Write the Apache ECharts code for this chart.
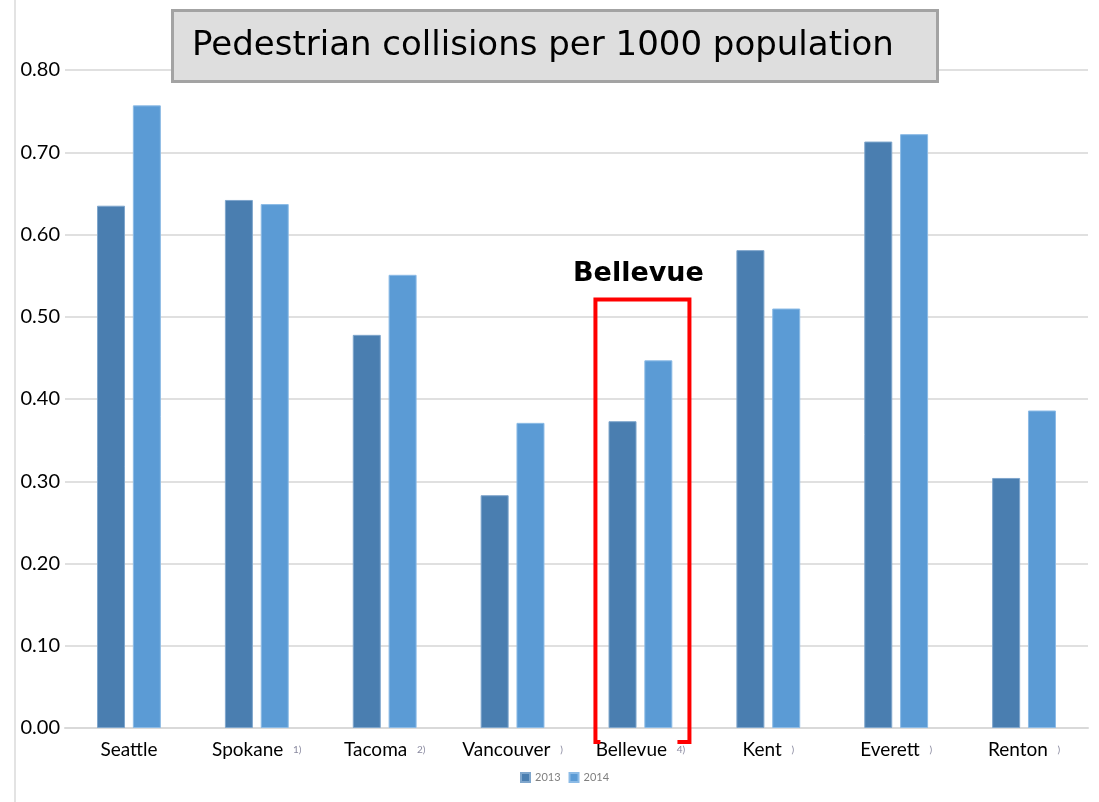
<!DOCTYPE html>
<html>
<head>
<meta charset="utf-8">
<script src="https://cdn.jsdelivr.net/npm/echarts@6/dist/echarts.min.js"></script>
<style>
  html, body { margin: 0; padding: 0; background: #fff; }
  #chart { width: 1099px; height: 802px; }
</style>
</head>
<body>
<div id="chart"></div>
<script>
const cities = ['Seattle', 'Spokane', 'Tacoma', 'Vancouver', 'Bellevue', 'Kent', 'Everett', 'Renton'];
const notes = ['', '1)', '2)', ')', '4)', ')', ')', ')'];
const y2013 = [0.635, 0.642, 0.478, 0.283, 0.373, 0.581, 0.713, 0.304];
const y2014 = [0.757, 0.637, 0.551, 0.371, 0.447, 0.510, 0.722, 0.386];
const yTicks = [0, 0.1, 0.2, 0.3, 0.4, 0.5, 0.6, 0.7, 0.8];

const chart = echarts.init(document.getElementById('chart'));
const labelFont = 'Lato, "Open Sans", sans-serif';

chart.setOption({
  animation: false,
  color: ['#4a7eb0', '#5b9bd5'],
  title: {
    text: 'Pedestrian collisions per 1000 population',
    left: 172,
    top: 10,
    padding: [19, 44, 19, 20],
    backgroundColor: '#dedede',
    borderColor: '#a3a3a3',
    borderWidth: 3,
    textStyle: {
      fontFamily: '"DejaVu Sans", sans-serif',
      fontWeight: 'normal',
      fontSize: 34,
      color: '#000'
    }
  },
  legend: {
    bottom: 14,
    left: 515,
    itemWidth: 9,
    itemHeight: 9,
    itemGap: 8,
    icon: 'rect',
    textStyle: { color: '#7f7f7f', fontSize: 11, fontFamily: labelFont }
  },
  grid: { left: 65, right: 11, top: 70, bottom: 74 },
  xAxis: {
    type: 'category',
    data: cities,
    axisTick: { show: false },
    axisLine: { lineStyle: { color: '#d9d9d9', width: 2 } },
    axisLabel: {
      interval: 0,
      margin: 12,
      formatter: (v, i) => notes[i] ? v + '  {n|' + notes[i] + '}' : v,
      color: '#000',
      fontSize: 19,
      fontFamily: labelFont,
      rich: { n: { fontSize: 10, color: '#8a8aa0' } }
    }
  },
  yAxis: {
    type: 'value',
    min: 0,
    max: 0.8,
    interval: 0.1,
    axisLine: { show: false },
    axisTick: { show: false },
    splitLine: { lineStyle: { color: '#e0e0e0', width: 2 } },
    axisLabel: {
      margin: 5,
      color: '#000',
      fontSize: 20,
      fontFamily: labelFont,
      formatter: v => v.toFixed(2)
    }
  },
  series: [
    {
      name: '2013', type: 'bar', data: y2013, barWidth: 28, barGap: '28%',
      itemStyle: { borderColor: '#7fa6cc', borderWidth: 1 }
    },
    {
      name: '2014', type: 'bar', data: y2014, barWidth: 28,
      itemStyle: { borderColor: '#8cbbe6', borderWidth: 1 }
    }
  ]
});

// highlight box round Bellevue, placed from the axes
const cx = chart.convertToPixel({ xAxisIndex: 0 }, 'Bellevue') + 2;
const yTop = chart.convertToPixel({ yAxisIndex: 0 }, 0.521);
const yBot = chart.convertToPixel({ yAxisIndex: 0 }, 0) + 14;
const half = 47;
chart.setOption({
  graphic: [
    {
      type: 'line', silent: true,
      shape: { x1: 15, y1: 0, x2: 15, y2: 802 },
      style: { stroke: '#e3e3e3', lineWidth: 2 }
    },
    {
      type: 'polyline', silent: true, z: 100,
      shape: { points: [[cx - half + 5, yBot], [cx - half, yBot], [cx - half, yTop], [cx + half, yTop], [cx + half, yBot], [cx + half - 12, yBot]] },
      style: { stroke: '#ff0000', lineWidth: 4, fill: null }
    },
    {
      type: 'text', silent: true, z: 100,
      x: cx - 4, y: yTop - 12,
      style: {
        text: 'Bellevue',
        align: 'center',
        verticalAlign: 'bottom',
        font: 'bold 27px "DejaVu Sans", sans-serif',
        fill: '#000'
      }
    }
  ]
});
</script>
</body>
</html>
